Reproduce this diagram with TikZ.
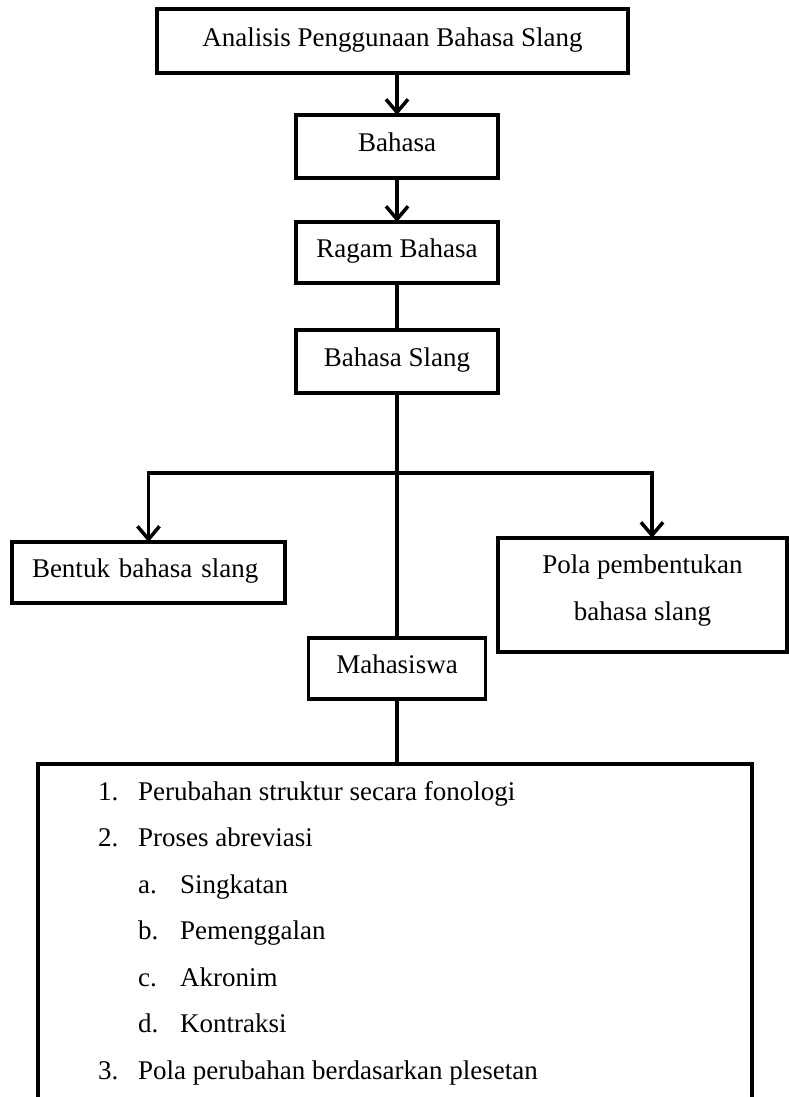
\documentclass[tikz,border=0pt]{standalone}
\usepackage{fontspec}
\setmainfont{Liberation Serif}
\usetikzlibrary{arrows.meta}
\begin{document}
\begin{tikzpicture}[x=1pt,y=-1pt,
  every node/.style={font=\fontsize{27pt}{46.5pt}\selectfont},
  box/.style={draw=black, line width=3.5pt, fill=white, inner sep=0pt, outer sep=0pt,
    text height=16.2pt, text depth=5.9pt},
  conn/.style={draw=black, line width=3.5pt},
  arr/.style={conn, -{Straight Barb[length=13pt,width=22pt,line width=3.5pt]}},
  item/.style={anchor=base west, inner sep=0pt}
]
\useasboundingbox (0,0) rectangle (789,1097);
\fill[white] (0,0) rectangle (789,1097);

\node[box, minimum width=471pt, minimum height=64pt] (top) at (392.5,41) {Analisis Penggunaan Bahasa Slang};
\node[box, minimum width=202pt, minimum height=63pt] (bahasa) at (397,146.5) {Bahasa};
\node[box, minimum width=202pt, minimum height=61pt] (ragam) at (397,252.5) {Ragam Bahasa};
\node[box, minimum width=202pt, minimum height=63pt] (slang) at (397,361.5) {Bahasa Slang};
\node[box, minimum height=61pt, text width=233pt, inner xsep=20pt, align=left] (bentuk) at (148.5,572.5) {Bentuk bahasa slang};
\node[box, minimum width=289pt, minimum height=114pt, text height=, text depth=, align=center] (pola) at (642.5,595) {Pola pembentukan\\bahasa slang\rule[-14.4pt]{0pt}{1pt}};
\node[box, minimum width=177pt, minimum height=61pt] (maha) at (397,668.5) {Mahasiswa};

\coordinate (listtop) at (397,764);
\coordinate (br) at (397,473);
\coordinate (polain) at (652,538);

% list box (open at the bottom)
\draw[conn, line join=miter] (38,1100) -- (38,764) -- (752,764) -- (752,1100);

% connectors
\draw[arr] (top.south -| bahasa.north) -- (bahasa.north);
\draw[arr] (bahasa.south) -- (ragam.north);
\draw[conn] (ragam.south) -- (slang.north);
\draw[conn] (slang.south) -- (maha.north);
\draw[conn] (maha.south) -- (listtop);
\draw[arr, line join=miter] (br) -| (bentuk.north);
\draw[arr, line join=miter] (br) -| (polain);

% list contents
\node[item] (n1) at (98,800) {1.};
\node[item] (t1) at (138,800) {Perubahan struktur secara fonologi};
\node[item] (n2) at (98,846.5) {2.};
\node[item] (t2) at (138,846.5) {Proses abreviasi};
\node[item] (na) at (138,893) {a.};
\node[item] (ta) at (180,893) {Singkatan};
\node[item] (nb) at (138,939.5) {b.};
\node[item] (tb) at (180,939.5) {Pemenggalan};
\node[item] (nc) at (138,986) {c.};
\node[item] (tc) at (180,986) {Akronim};
\node[item] (nd) at (138,1032.5) {d.};
\node[item] (td) at (180,1032.5) {Kontraksi};
\node[item] (n3) at (98,1079) {3.};
\node[item] (t3) at (138,1079) {Pola perubahan berdasarkan plesetan};
\end{tikzpicture}
\end{document}
